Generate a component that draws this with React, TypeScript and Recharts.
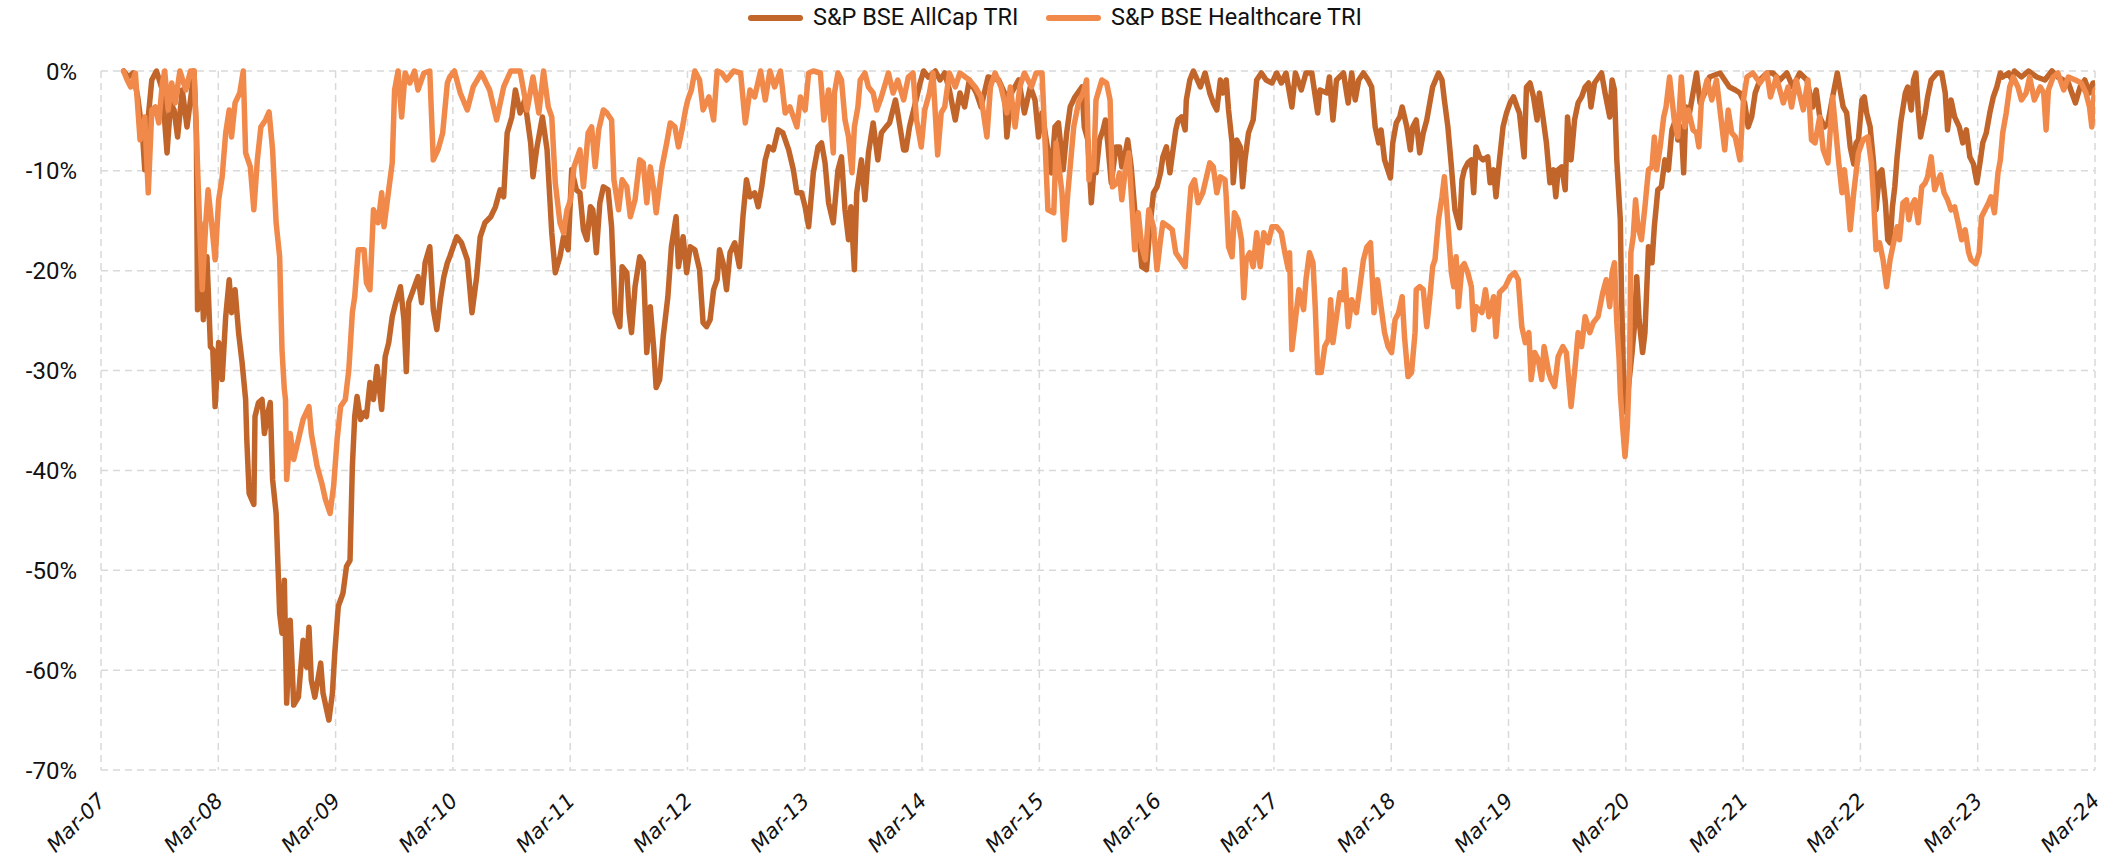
import React from "react";
import { LineChart, Line, XAxis, YAxis, CartesianGrid } from "recharts";

// Tick positions (decimal years, March of each year) and their labels
const tickYears: number[] = [
  2007.167, 2008.167, 2009.167, 2010.167, 2011.167, 2012.167, 2013.167, 2014.167, 2015.167,
  2016.167, 2017.167, 2018.167, 2019.167, 2020.167, 2021.167, 2022.167, 2023.167, 2024.167,
];
const tickLabels: string[] = [
  "Mar-07", "Mar-08", "Mar-09", "Mar-10", "Mar-11", "Mar-12", "Mar-13", "Mar-14", "Mar-15",
  "Mar-16", "Mar-17", "Mar-18", "Mar-19", "Mar-20", "Mar-21", "Mar-22", "Mar-23", "Mar-24",
];
const yTicks: number[] = [0, -10, -20, -30, -40, -50, -60, -70];

// S&P BSE AllCap TRI drawdown (%)
const allCapDates: number[] = [
  2007.36, 2007.40, 2007.44, 2007.48, 2007.52, 2007.54, 2007.57, 2007.60, 2007.64, 2007.69,
  2007.73, 2007.76, 2007.79, 2007.82, 2007.86, 2007.90, 2007.93, 2007.96, 2007.98, 2007.99,
  2008.01, 2008.04, 2008.07, 2008.10, 2008.12, 2008.14, 2008.17, 2008.20, 2008.23, 2008.26,
  2008.28, 2008.31, 2008.34, 2008.37, 2008.40, 2008.41, 2008.43, 2008.47, 2008.48, 2008.51,
  2008.54, 2008.56, 2008.59, 2008.61, 2008.63, 2008.66, 2008.69, 2008.71, 2008.73, 2008.75,
  2008.78, 2008.81, 2008.85, 2008.89, 2008.92, 2008.94, 2008.96, 2008.99, 2009.04, 2009.06,
  2009.11, 2009.14, 2009.16, 2009.19, 2009.23, 2009.26, 2009.29, 2009.31, 2009.33, 2009.35,
  2009.38, 2009.41, 2009.43, 2009.46, 2009.49, 2009.52, 2009.56, 2009.59, 2009.62, 2009.65,
  2009.68, 2009.72, 2009.75, 2009.77, 2009.79, 2009.83, 2009.87, 2009.90, 2009.93, 2009.97,
  2010.00, 2010.03, 2010.06, 2010.09, 2010.12, 2010.14, 2010.20, 2010.24, 2010.29, 2010.33,
  2010.37, 2010.40, 2010.44, 2010.49, 2010.53, 2010.57, 2010.60, 2010.63, 2010.67, 2010.70,
  2010.74, 2010.78, 2010.83, 2010.85, 2010.88, 2010.93, 2010.97, 2011.01, 2011.04, 2011.08,
  2011.11, 2011.15, 2011.18, 2011.22, 2011.25, 2011.28, 2011.31, 2011.34, 2011.36, 2011.39,
  2011.42, 2011.45, 2011.49, 2011.52, 2011.55, 2011.59, 2011.61, 2011.65, 2011.67, 2011.69,
  2011.72, 2011.76, 2011.79, 2011.82, 2011.85, 2011.88, 2011.90, 2011.93, 2011.96, 2012.00,
  2012.03, 2012.07, 2012.09, 2012.13, 2012.16, 2012.19, 2012.23, 2012.27, 2012.30, 2012.33,
  2012.36, 2012.39, 2012.42, 2012.44, 2012.47, 2012.50, 2012.53, 2012.57, 2012.61, 2012.64,
  2012.67, 2012.70, 2012.74, 2012.77, 2012.80, 2012.83, 2012.86, 2012.90, 2012.94, 2012.98,
  2013.03, 2013.07, 2013.10, 2013.14, 2013.17, 2013.20, 2013.24, 2013.28, 2013.31, 2013.34,
  2013.37, 2013.41, 2013.45, 2013.48, 2013.51, 2013.54, 2013.56, 2013.59, 2013.61, 2013.65,
  2013.68, 2013.71, 2013.75, 2013.79, 2013.82, 2013.86, 2013.89, 2013.94, 2013.96, 2014.01,
  2014.03, 2014.06, 2014.11, 2014.15, 2014.18, 2014.22, 2014.28, 2014.32, 2014.36, 2014.40,
  2014.45, 2014.49, 2014.53, 2014.57, 2014.63, 2014.67, 2014.73, 2014.82, 2014.87, 2014.89,
  2014.93, 2014.99, 2015.04, 2015.09, 2015.13, 2015.16, 2015.19, 2015.23, 2015.27, 2015.30,
  2015.33, 2015.37, 2015.40, 2015.43, 2015.47, 2015.53, 2015.55, 2015.58, 2015.61, 2015.63,
  2015.65, 2015.68, 2015.71, 2015.73, 2015.75, 2015.78, 2015.82, 2015.85, 2015.87, 2015.90,
  2015.92, 2015.95, 2015.98, 2016.01, 2016.04, 2016.08, 2016.11, 2016.14, 2016.17, 2016.20,
  2016.22, 2016.25, 2016.28, 2016.31, 2016.33, 2016.35, 2016.38, 2016.41, 2016.42, 2016.45,
  2016.48, 2016.54, 2016.58, 2016.62, 2016.65, 2016.68, 2016.71, 2016.73, 2016.76, 2016.78,
  2016.81, 2016.82, 2016.85, 2016.88, 2016.90, 2016.92, 2016.95, 2016.99, 2017.02, 2017.06,
  2017.10, 2017.15, 2017.19, 2017.23, 2017.27, 2017.32, 2017.35, 2017.40, 2017.44, 2017.49,
  2017.54, 2017.56, 2017.62, 2017.64, 2017.67, 2017.70, 2017.76, 2017.80, 2017.83, 2017.86,
  2017.89, 2017.93, 2017.97, 2018.00, 2018.03, 2018.06, 2018.08, 2018.11, 2018.16, 2018.18,
  2018.21, 2018.24, 2018.26, 2018.30, 2018.33, 2018.35, 2018.38, 2018.41, 2018.44, 2018.47,
  2018.50, 2018.52, 2018.57, 2018.60, 2018.62, 2018.65, 2018.68, 2018.71, 2018.75, 2018.77,
  2018.79, 2018.82, 2018.85, 2018.87, 2018.89, 2018.92, 2018.95, 2018.99, 2019.01, 2019.04,
  2019.06, 2019.09, 2019.12, 2019.15, 2019.18, 2019.21, 2019.24, 2019.26, 2019.30, 2019.32,
  2019.35, 2019.38, 2019.41, 2019.43, 2019.46, 2019.49, 2019.52, 2019.55, 2019.57, 2019.59,
  2019.62, 2019.65, 2019.67, 2019.70, 2019.73, 2019.76, 2019.79, 2019.82, 2019.85, 2019.87,
  2019.90, 2019.96, 2019.99, 2020.03, 2020.05, 2020.07, 2020.09, 2020.12, 2020.13, 2020.15,
  2020.17, 2020.19, 2020.22, 2020.24, 2020.26, 2020.28, 2020.31, 2020.33, 2020.36, 2020.39,
  2020.41, 2020.44, 2020.47, 2020.50, 2020.53, 2020.56, 2020.59, 2020.61, 2020.64, 2020.66,
  2020.68, 2020.71, 2020.74, 2020.77, 2020.80, 2020.84, 2020.88, 2020.97, 2021.05, 2021.10,
  2021.14, 2021.18, 2021.21, 2021.24, 2021.27, 2021.31, 2021.37, 2021.42, 2021.48, 2021.54,
  2021.59, 2021.65, 2021.71, 2021.76, 2021.79, 2021.82, 2021.86, 2021.89, 2021.93, 2021.97,
  2021.99, 2022.02, 2022.05, 2022.08, 2022.11, 2022.13, 2022.15, 2022.18, 2022.20, 2022.22,
  2022.25, 2022.28, 2022.30, 2022.33, 2022.35, 2022.38, 2022.40, 2022.42, 2022.44, 2022.46,
  2022.48, 2022.51, 2022.55, 2022.57, 2022.60, 2022.62, 2022.64, 2022.66, 2022.68, 2022.72,
  2022.74, 2022.77, 2022.82, 2022.86, 2022.89, 2022.91, 2022.94, 2022.97, 2023.01, 2023.04,
  2023.07, 2023.10, 2023.13, 2023.16, 2023.19, 2023.21, 2023.24, 2023.27, 2023.30, 2023.33,
  2023.36, 2023.38, 2023.43, 2023.46, 2023.48, 2023.54, 2023.60, 2023.67, 2023.74, 2023.80,
  2023.85, 2023.94, 2024.00, 2024.04, 2024.08, 2024.12, 2024.15, 2024.165,
];
const allCapValues: number[] = [
  0, -0.6, -0.2, -2.6, -6.2, -9.9, -4.6, -0.9, 0, -1.9,
  -8.2, -3.2, -3.9, -6.6, -1.9, -5.6, -2.9, 0, -6.2, -23.9,
  -15.2, -24.9, -18.6, -27.6, -27.9, -33.6, -27.2, -30.9, -24.6, -20.9,
  -24.2, -21.9, -26.2, -29.2, -32.9, -36.9, -42.3, -43.4, -34.6, -33.2,
  -32.9, -36.3, -34.2, -33.2, -40.9, -44.3, -54.3, -56.3, -51.0, -63.3,
  -55.0, -63.5, -62.7, -57.0, -59.7, -55.7, -61.0, -62.7, -59.3, -62.3,
  -65.0, -62.3, -58.3, -53.6, -52.3, -49.6, -49.0, -39.6, -34.6, -32.6,
  -34.9, -34.2, -34.6, -31.2, -32.9, -29.6, -33.9, -28.6, -27.2, -24.6,
  -23.2, -21.6, -24.9, -30.1, -23.2, -21.9, -20.6, -23.2, -19.2, -17.6,
  -23.9, -25.9, -22.9, -20.6, -19.2, -18.6, -16.6, -17.2, -18.9, -24.2,
  -20.6, -16.6, -15.2, -14.6, -13.6, -11.9, -12.6, -6.2, -4.6, -1.9,
  -4.2, -2.9, -7.2, -10.6, -7.9, -4.6, -7.9, -16.2, -20.2, -18.6,
  -16.6, -17.9, -9.9, -11.9, -12.2, -15.9, -16.9, -13.6, -13.9, -18.2,
  -13.2, -11.6, -11.9, -15.6, -24.2, -25.6, -19.6, -20.2, -24.2, -26.2,
  -21.6, -18.6, -19.2, -28.2, -23.6, -27.9, -31.7, -30.9, -26.6, -22.6,
  -17.6, -14.6, -19.6, -16.6, -20.2, -17.6, -17.9, -19.9, -25.2, -25.6,
  -24.9, -21.9, -20.9, -17.9, -19.2, -21.9, -18.2, -17.2, -19.6, -14.6,
  -10.9, -12.6, -12.2, -13.6, -11.6, -8.9, -7.6, -7.9, -5.9, -6.2,
  -7.9, -9.9, -12.2, -12.2, -13.6, -15.6, -10.2, -7.6, -7.2, -9.2,
  -13.2, -15.2, -9.9, -8.6, -13.9, -16.9, -13.6, -19.9, -12.2, -8.9,
  -12.9, -8.2, -5.2, -8.9, -6.2, -5.6, -5.2, -2.9, -4.2, -7.9,
  -7.9, -5.6, -3.2, -1.2, 0, -0.6, 0, -0.9, -0.2, -1.9,
  -4.9, -2.2, -3.6, -0.9, -2.2, -3.6, -0.6, -0.9, -2.2, -6.6,
  -2.2, -0.9, -4.2, -1.6, -2.9, -6.6, -4.2, -7.2, -10.2, -5.6,
  -5.2, -9.9, -6.2, -3.6, -2.6, -1.6, -5.6, -6.9, -13.2, -10.2,
  -10.2, -6.9, -5.9, -4.9, -7.2, -11.2, -7.6, -7.6, -9.6, -8.2,
  -6.9, -9.6, -13.9, -15.6, -19.6, -19.9, -15.6, -12.2, -11.6, -10.2,
  -8.6, -7.6, -10.2, -7.6, -5.9, -4.9, -4.6, -5.9, -2.9, -0.9,
  0, -1.6, -0.2, -2.2, -3.2, -3.9, -0.9, -2.2, -0.9, -3.9,
  -7.2, -11.2, -6.9, -7.6, -11.6, -8.9, -6.2, -4.9, -0.9, -0.2,
  -0.9, -1.2, -0.2, -1.2, -0.2, -3.6, -0.2, -1.9, -0.2, -0.2,
  -4.2, -1.9, -2.2, -0.6, -4.9, -0.9, -0.2, -3.2, -0.2, -2.9,
  -0.9, -0.2, -0.9, -1.6, -5.6, -7.2, -5.9, -8.9, -10.7, -7.2,
  -5.2, -4.6, -3.6, -5.6, -7.9, -5.6, -4.9, -8.2, -6.2, -4.9,
  -2.9, -1.6, -0.2, -0.9, -2.9, -5.6, -9.6, -13.9, -15.7, -10.9,
  -9.9, -9.2, -8.9, -12.2, -7.6, -8.6, -8.9, -8.6, -11.2, -9.9,
  -12.6, -8.9, -5.6, -4.2, -3.2, -2.6, -3.6, -4.2, -8.6, -1.6,
  -1.2, -2.6, -4.9, -2.2, -4.6, -7.2, -11.2, -9.9, -12.6, -9.9,
  -9.6, -11.9, -4.6, -8.9, -4.9, -3.2, -2.6, -1.6, -1.2, -3.6,
  -1.2, -0.2, -2.2, -4.6, -0.9, -1.9, -8.9, -14.9, -22.2, -32.2,
  -34.2, -31.6, -28.2, -25.6, -20.6, -24.9, -28.2, -26.2, -17.6, -19.2,
  -15.6, -11.9, -11.6, -8.9, -9.9, -5.9, -4.9, -6.9, -5.6, -10.2,
  -3.6, -4.2, -2.2, -0.2, -3.2, -2.2, -0.6, -0.2, -1.6, -1.9,
  -2.2, -3.2, -5.6, -4.6, -2.2, -0.9, -0.2, -0.2, -0.9, -0.2,
  -1.6, -0.2, -0.9, -3.6, -1.9, -4.6, -5.6, -5.2, -2.6, -0.2,
  -1.6, -3.6, -4.2, -7.6, -9.3, -7.2, -6.9, -2.9, -2.6, -4.2,
  -5.6, -9.3, -13.9, -10.2, -9.9, -13.2, -16.9, -17.2, -13.6, -11.6,
  -8.6, -5.2, -2.2, -1.6, -3.9, -0.9, -0.2, -3.9, -6.6, -4.2,
  -2.6, -0.9, -0.2, -0.2, -2.2, -5.9, -2.9, -4.6, -5.6, -7.2,
  -5.9, -8.6, -9.3, -11.2, -8.9, -7.2, -6.2, -4.2, -2.6, -1.6,
  -0.2, -0.6, -0.2, -0.9, 0, -0.6, 0, -0.6, -0.9, 0,
  -0.6, -1.2, -3.2, -1.6, -0.9, -2.2, -1.2, -1.2,
];

// S&P BSE Healthcare TRI drawdown (%)
const healthcareDates: number[] = [
  2007.36, 2007.39, 2007.42, 2007.46, 2007.50, 2007.54, 2007.57, 2007.60, 2007.63, 2007.66,
  2007.69, 2007.71, 2007.74, 2007.77, 2007.80, 2007.84, 2007.89, 2007.93, 2007.96, 2007.98,
  2008.01, 2008.03, 2008.06, 2008.08, 2008.11, 2008.14, 2008.17, 2008.20, 2008.23, 2008.26,
  2008.28, 2008.31, 2008.35, 2008.38, 2008.40, 2008.44, 2008.47, 2008.50, 2008.53, 2008.57,
  2008.60, 2008.63, 2008.66, 2008.69, 2008.71, 2008.73, 2008.74, 2008.75, 2008.78, 2008.81,
  2008.85, 2008.89, 2008.94, 2008.96, 2009.01, 2009.05, 2009.08, 2009.12, 2009.15, 2009.18,
  2009.21, 2009.25, 2009.28, 2009.31, 2009.33, 2009.36, 2009.41, 2009.43, 2009.46, 2009.49,
  2009.53, 2009.56, 2009.58, 2009.62, 2009.65, 2009.67, 2009.70, 2009.73, 2009.76, 2009.80,
  2009.84, 2009.87, 2009.92, 2009.97, 2010.00, 2010.04, 2010.08, 2010.12, 2010.14, 2010.18,
  2010.23, 2010.29, 2010.34, 2010.41, 2010.48, 2010.54, 2010.60, 2010.66, 2010.74, 2010.80,
  2010.85, 2010.90, 2010.94, 2010.98, 2011.01, 2011.04, 2011.08, 2011.11, 2011.14, 2011.17,
  2011.20, 2011.25, 2011.28, 2011.32, 2011.35, 2011.38, 2011.41, 2011.45, 2011.48, 2011.52,
  2011.54, 2011.58, 2011.61, 2011.65, 2011.68, 2011.72, 2011.76, 2011.79, 2011.82, 2011.85,
  2011.88, 2011.90, 2011.95, 2011.99, 2012.02, 2012.06, 2012.09, 2012.12, 2012.15, 2012.17,
  2012.20, 2012.23, 2012.27, 2012.30, 2012.35, 2012.39, 2012.42, 2012.46, 2012.50, 2012.56,
  2012.62, 2012.66, 2012.70, 2012.74, 2012.79, 2012.83, 2012.87, 2012.91, 2012.96, 2013.00,
  2013.04, 2013.10, 2013.13, 2013.17, 2013.20, 2013.24, 2013.30, 2013.33, 2013.37, 2013.41,
  2013.42, 2013.45, 2013.48, 2013.51, 2013.54, 2013.57, 2013.59, 2013.62, 2013.64, 2013.68,
  2013.71, 2013.75, 2013.78, 2013.82, 2013.88, 2013.92, 2013.96, 2014.01, 2014.05, 2014.09,
  2014.12, 2014.16, 2014.19, 2014.23, 2014.26, 2014.30, 2014.33, 2014.36, 2014.40, 2014.45,
  2014.49, 2014.57, 2014.62, 2014.67, 2014.72, 2014.75, 2014.79, 2014.84, 2014.89, 2014.92,
  2014.96, 2015.00, 2015.04, 2015.10, 2015.14, 2015.19, 2015.21, 2015.24, 2015.29, 2015.31,
  2015.36, 2015.38, 2015.41, 2015.46, 2015.50, 2015.54, 2015.57, 2015.59, 2015.61, 2015.63,
  2015.65, 2015.70, 2015.74, 2015.77, 2015.79, 2015.83, 2015.85, 2015.87, 2015.90, 2015.93,
  2015.95, 2015.98, 2016.01, 2016.04, 2016.07, 2016.10, 2016.14, 2016.17, 2016.20, 2016.22,
  2016.27, 2016.30, 2016.33, 2016.37, 2016.41, 2016.44, 2016.46, 2016.49, 2016.52, 2016.56,
  2016.62, 2016.65, 2016.68, 2016.71, 2016.75, 2016.76, 2016.78, 2016.81, 2016.83, 2016.86,
  2016.89, 2016.91, 2016.93, 2016.96, 2016.99, 2017.02, 2017.05, 2017.08, 2017.12, 2017.15,
  2017.19, 2017.23, 2017.26, 2017.29, 2017.30, 2017.32, 2017.35, 2017.38, 2017.42, 2017.44,
  2017.47, 2017.50, 2017.52, 2017.54, 2017.57, 2017.60, 2017.63, 2017.65, 2017.67, 2017.70,
  2017.73, 2017.76, 2017.77, 2017.80, 2017.83, 2017.87, 2017.90, 2017.93, 2017.96, 2017.99,
  2018.02, 2018.05, 2018.08, 2018.11, 2018.14, 2018.17, 2018.20, 2018.23, 2018.26, 2018.28,
  2018.31, 2018.34, 2018.37, 2018.38, 2018.41, 2018.44, 2018.47, 2018.50, 2018.52, 2018.54,
  2018.57, 2018.60, 2018.62, 2018.64, 2018.66, 2018.68, 2018.70, 2018.72, 2018.74, 2018.77,
  2018.79, 2018.82, 2018.85, 2018.87, 2018.89, 2018.94, 2018.97, 2019.00, 2019.04, 2019.06,
  2019.09, 2019.14, 2019.18, 2019.22, 2019.25, 2019.28, 2019.31, 2019.34, 2019.36, 2019.39,
  2019.42, 2019.45, 2019.47, 2019.51, 2019.53, 2019.56, 2019.59, 2019.63, 2019.66, 2019.68,
  2019.70, 2019.73, 2019.76, 2019.79, 2019.82, 2019.86, 2019.89, 2019.93, 2019.97, 2020.00,
  2020.03, 2020.05, 2020.07, 2020.09, 2020.11, 2020.12, 2020.14, 2020.16, 2020.18, 2020.20,
  2020.21, 2020.23, 2020.25, 2020.27, 2020.30, 2020.33, 2020.36, 2020.39, 2020.41, 2020.43,
  2020.46, 2020.49, 2020.51, 2020.54, 2020.58, 2020.61, 2020.64, 2020.67, 2020.70, 2020.74,
  2020.77, 2020.79, 2020.81, 2020.86, 2020.90, 2020.94, 2020.98, 2021.01, 2021.04, 2021.07,
  2021.10, 2021.14, 2021.17, 2021.20, 2021.25, 2021.31, 2021.37, 2021.40, 2021.45, 2021.51,
  2021.55, 2021.58, 2021.62, 2021.68, 2021.72, 2021.75, 2021.78, 2021.82, 2021.85, 2021.89,
  2021.93, 2021.98, 2022.01, 2022.03, 2022.06, 2022.08, 2022.11, 2022.13, 2022.15, 2022.19,
  2022.23, 2022.26, 2022.28, 2022.30, 2022.33, 2022.36, 2022.39, 2022.42, 2022.45, 2022.48,
  2022.50, 2022.53, 2022.56, 2022.58, 2022.60, 2022.63, 2022.66, 2022.69, 2022.72, 2022.74,
  2022.77, 2022.80, 2022.83, 2022.85, 2022.88, 2022.91, 2022.94, 2022.97, 2023.00, 2023.03,
  2023.06, 2023.09, 2023.11, 2023.15, 2023.18, 2023.20, 2023.23, 2023.26, 2023.28, 2023.31,
  2023.34, 2023.36, 2023.38, 2023.41, 2023.44, 2023.47, 2023.51, 2023.54, 2023.58, 2023.61,
  2023.65, 2023.70, 2023.73, 2023.75, 2023.77, 2023.81, 2023.85, 2023.90, 2023.94, 2024.00,
  2024.05, 2024.09, 2024.12, 2024.14, 2024.16, 2024.165,
];
const healthcareValues: number[] = [
  0, -0.9, -1.6, -0.2, -6.9, -4.6, -12.2, -3.9, -3.6, -5.2,
  -1.2, 0, -3.9, -1.2, -3.2, 0, -1.9, 0, 0, -6.2,
  -16.2, -21.9, -15.2, -11.9, -15.2, -18.9, -12.9, -10.6, -6.2, -3.9,
  -6.6, -3.2, -2.2, 0, -8.2, -9.6, -13.9, -8.9, -5.6, -4.9,
  -4.1, -7.9, -15.2, -18.6, -27.9, -31.9, -32.9, -40.9, -36.3, -38.9,
  -36.9, -34.9, -33.6, -36.3, -39.6, -41.3, -42.9, -44.3, -41.6, -36.9,
  -33.6, -32.9, -29.9, -24.2, -22.6, -17.9, -17.9, -21.2, -21.9, -13.9,
  -15.2, -12.2, -15.6, -11.9, -9.2, -1.9, 0, -4.6, -0.2, -1.2,
  0, -1.9, -0.2, 0, -8.9, -7.9, -6.2, -1.2, -0.6, 0,
  -2.2, -3.9, -1.6, -0.2, -1.9, -4.9, -1.6, 0, 0, -3.9,
  -0.6, -4.2, 0, -3.6, -4.6, -11.2, -15.2, -16.2, -13.9, -12.9,
  -9.6, -7.9, -11.6, -6.2, -5.6, -9.6, -5.9, -3.9, -4.2, -4.9,
  -10.9, -13.9, -10.9, -11.6, -14.6, -12.9, -8.9, -9.2, -13.2, -9.6,
  -11.9, -14.2, -9.6, -7.2, -5.2, -5.6, -7.6, -5.9, -3.9, -2.9,
  -1.9, 0, -0.9, -3.9, -2.6, -4.9, 0, -0.2, -0.9, 0,
  -0.2, -5.2, -1.9, -2.6, 0, -2.9, 0, -1.6, 0, -4.2,
  -3.6, -5.6, -2.6, -3.9, -0.2, 0, -0.2, -4.9, -1.9, -8.2,
  -2.2, -0.2, -0.9, -4.9, -6.6, -10.2, -5.6, -3.6, -0.9, -0.2,
  -1.6, -2.2, -3.9, -2.6, -0.2, -2.2, -0.9, -2.9, -0.6, -0.2,
  -4.9, -7.6, -3.9, -2.2, -0.2, -8.4, -4.2, -3.6, -0.2, -1.6,
  -0.2, -0.9, -1.6, -2.6, -6.6, -1.6, -0.2, -1.6, -4.2, -1.6,
  -5.6, -1.6, -0.2, -1.6, -0.2, -0.2, -5.6, -13.9, -14.2, -7.2,
  -12.2, -16.9, -12.2, -5.6, -3.2, -2.2, -0.9, -10.9, -8.9, -9.9,
  -2.9, -0.9, -1.2, -2.9, -11.6, -11.2, -10.2, -12.9, -9.9, -8.2,
  -12.2, -17.9, -14.2, -17.6, -18.9, -13.9, -15.6, -19.9, -16.9, -15.2,
  -15.6, -15.9, -18.2, -18.9, -19.6, -14.6, -11.6, -10.9, -13.2, -12.2,
  -9.2, -9.6, -12.2, -10.6, -10.9, -12.6, -17.6, -18.6, -14.2, -14.9,
  -16.9, -22.7, -18.9, -18.2, -19.6, -16.2, -19.6, -16.2, -17.2, -15.6,
  -15.6, -16.2, -18.2, -19.9, -18.2, -27.9, -24.9, -21.9, -23.9, -20.9,
  -18.2, -19.2, -23.9, -30.2, -30.2, -27.6, -26.9, -22.9, -27.2, -24.6,
  -22.2, -22.9, -19.9, -25.6, -22.9, -24.2, -21.6, -18.9, -17.6, -17.2,
  -24.2, -20.9, -23.6, -26.2, -27.6, -28.2, -24.9, -24.2, -22.6, -26.6,
  -30.6, -30.2, -26.2, -21.9, -21.6, -21.9, -25.6, -22.2, -19.6, -18.9,
  -14.9, -12.6, -10.6, -13.6, -16.9, -20.2, -21.6, -18.6, -23.6, -19.6,
  -19.3, -20.2, -21.6, -25.9, -23.6, -24.2, -21.9, -24.6, -22.6, -26.6,
  -22.2, -21.6, -20.6, -20.2, -20.9, -25.6, -27.2, -26.2, -30.9, -28.2,
  -28.9, -30.9, -27.6, -30.2, -30.9, -31.6, -28.6, -27.6, -28.2, -30.9,
  -33.6, -30.2, -26.2, -27.6, -24.6, -26.2, -25.2, -24.6, -22.2, -20.9,
  -23.6, -20.2, -19.2, -25.2, -28.9, -32.2, -35.6, -38.6, -35.6, -28.9,
  -18.2, -16.6, -12.9, -15.6, -16.9, -13.6, -9.9, -9.6, -6.6, -9.9,
  -7.6, -4.6, -3.6, -0.6, -4.9, -6.6, -0.6, -5.6, -3.9, -5.9,
  -6.2, -7.6, -3.2, -0.9, -2.9, -0.9, -4.9, -7.9, -3.9, -6.2,
  -6.6, -8.9, -2.9, -0.6, -0.2, -1.2, -0.2, -2.6, -0.6, -3.2,
  -1.6, -3.6, -0.9, -3.9, -0.9, -6.9, -7.2, -4.6, -7.9, -9.2,
  -2.6, -8.9, -12.2, -9.9, -12.9, -15.9, -12.2, -10.2, -8.2, -6.9,
  -6.6, -9.2, -12.9, -17.9, -17.2, -18.9, -21.6, -18.9, -17.2, -15.6,
  -16.9, -13.2, -12.9, -14.9, -13.6, -12.9, -15.2, -11.6, -11.2, -10.6,
  -8.6, -11.9, -10.9, -10.4, -12.2, -12.9, -13.9, -13.6, -15.2, -16.9,
  -15.9, -18.2, -18.9, -19.3, -18.2, -14.6, -13.9, -13.2, -12.6, -14.2,
  -10.2, -8.9, -6.2, -4.2, -1.6, -0.6, -1.6, -2.9, -2.2, -0.6,
  -2.9, -1.6, -2.2, -5.9, -1.9, -0.6, -0.2, -1.9, -0.6, -0.9,
  -1.2, -2.2, -3.6, -5.6, -2.2, -1.9,
];

const allCapData = allCapDates.map((d, i) => ({ date: d, value: allCapValues[i] }));
const healthcareData = healthcareDates.map((d, i) => ({ date: d, value: healthcareValues[i] }));

const DARK = "#C1652A";
const LIGHT = "#F0894A";
const FONT = "Roboto, 'Noto Sans', sans-serif";

const XTick = (props: any) => {
  const { x, y, payload } = props;
  const idx = tickYears.findIndex((t) => Math.abs(t - payload.value) < 0.01);
  const label = idx >= 0 ? tickLabels[idx] : "";
  const ax = x + 6;
  const ay = y + 24;
  return (
    <text
      x={ax}
      y={ay}
      transform={`rotate(-45, ${ax}, ${ay})`}
      textAnchor="end"
      fontFamily="'DejaVu Sans', sans-serif"
      fontStyle="italic"
      fontSize={21}
      fill="#111"
    >
      {label}
    </text>
  );
};

const LegendItem = ({ color, label, iconLeft, textLeft }: any) => (
  <>
    <div
      style={{
        position: "absolute",
        left: iconLeft,
        top: 15,
        width: 55,
        height: 6,
        borderRadius: 3,
        background: color,
      }}
    />
    <div
      style={{
        position: "absolute",
        left: textLeft,
        top: 3,
        fontFamily: FONT,
        fontSize: 23.5,
        lineHeight: "28px",
        color: "#111",
        whiteSpace: "nowrap",
      }}
    >
      {label}
    </div>
  </>
);

export default function App() {
  return (
    <div style={{ position: "absolute", left: 0, top: 0, width: 2111, height: 862, background: "#fff" }}>
      <LegendItem color={DARK} label="S&P BSE AllCap TRI" iconLeft={748} textLeft={813} />
      <LegendItem color={LIGHT} label="S&P BSE Healthcare TRI" iconLeft={1046} textLeft={1111} />
      <LineChart width={2111} height={862} margin={{ top: 71, right: 16, bottom: 2, left: 41 }}>
        <CartesianGrid stroke="#d9d9d9" strokeDasharray="7 5" strokeWidth={1.5} />
        <XAxis
          type="number"
          dataKey="date"
          domain={[2007.167, 2024.167]}
          ticks={tickYears}
          allowDataOverflow
          axisLine={false}
          tickLine={false}
          height={90}
          interval={0}
          tick={<XTick />}
        />
        <YAxis
          type="number"
          domain={[-70, 0]}
          ticks={yTicks}
          width={60}
          axisLine={false}
          tickLine={false}
          tickMargin={18}
          tickFormatter={(v: number) => `${v}%`}
          tick={{ fontFamily: FONT, fontSize: 24, fill: "#111" }}
        />
        <Line
          data={allCapData}
          dataKey="value"
          type="linear"
          stroke={DARK}
          strokeWidth={5.5}
          dot={false}
          strokeLinejoin="round"
          strokeLinecap="round"
          isAnimationActive={false}
        />
        <Line
          data={healthcareData}
          dataKey="value"
          type="linear"
          stroke={LIGHT}
          strokeWidth={5.5}
          dot={false}
          strokeLinejoin="round"
          strokeLinecap="round"
          isAnimationActive={false}
        />
      </LineChart>
    </div>
  );
}
